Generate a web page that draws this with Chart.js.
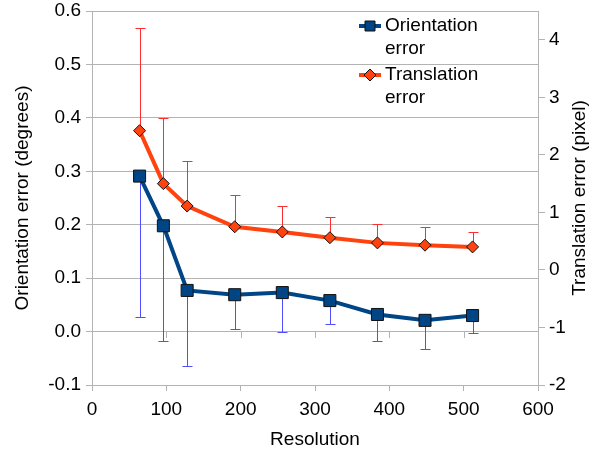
<!DOCTYPE html>
<html lang="en">
<head>
  <meta charset="UTF-8">
  <title>Orientation and translation error vs resolution</title>
  <script src="https://cdn.jsdelivr.net/npm/chart.js"></script>
  <style>
    body { margin: 0; background: #fff; }
    #wrap { width: 604px; height: 455px; }
  </style>
</head>
<body>
  <div id="wrap"><canvas id="chart" width="604" height="455"></canvas></div>

  <script>
    // values
    const resolution = [64, 96, 128, 192, 256, 320, 384, 448, 512];
    const orientErr = [0.291, 0.198, 0.077, 0.069, 0.073, 0.058, 0.032, 0.021, 0.030];
    const orientMinus = [0.263, 0.216, 0.141, 0.065, 0.073, 0.043, 0.049, 0.053, 0.032];
    const transErr = [2.42, 1.50, 1.11, 0.75, 0.66, 0.56, 0.47, 0.43, 0.40];
    const transPlus = [1.79, 1.14, 0.79, 0.55, 0.45, 0.36, 0.33, 0.32, 0.26];
    const seriesNames = [['Orientation', 'error'], ['Translation', 'error']];
    const rightTitle = 'Translation error (pixel)';

    const FONT = { family: '"Liberation Sans", Arial, sans-serif', size: 19 };
    const GRID = '#b3b3b3';
    const BLUE = '#004586';
    const ORANGE = '#ff420e';

    const toPoints = ys => resolution.map((x, i) => ({ x, y: ys[i] }));

    // keep the plot edges where the reference has them
    const fixPad = s => { s.paddingTop = 11; s.paddingBottom = 11; };

    // one sided error bars, drawn under the lines and markers
    const errorBars = {
      id: 'errorBars',
      beforeDatasetsDraw(chart) {
        const { ctx, scales } = chart;
        const x = scales.x;
        const drawBar = (xv, y0, y1, axis) => {
          const px = Math.round(x.getPixelForValue(xv)) + 0.5;
          const a = scales[axis].getPixelForValue(y0);
          const b = Math.round(scales[axis].getPixelForValue(y1)) + 0.5;
          ctx.beginPath();
          ctx.moveTo(px, a); ctx.lineTo(px, b);
          ctx.moveTo(px - 5, b); ctx.lineTo(px + 5, b);
          ctx.stroke();
        };
        ctx.save();
        ctx.lineWidth = 1;
        ctx.strokeStyle = '#4f4fff';
        resolution.forEach((r, i) => drawBar(r, orientErr[i], orientErr[i] - orientMinus[i], 'y'));
        ctx.strokeStyle = '#ff2e2e';
        resolution.forEach((r, i) => drawBar(r, transErr[i], transErr[i] + transPlus[i], 'y2'));
        // small tick marks on the zero line
        const zero = Math.round(scales.y.getPixelForValue(0));
        ctx.strokeStyle = GRID;
        x.ticks.forEach(t => {
          const px = Math.round(x.getPixelForValue(t.value)) + 0.5;
          ctx.beginPath(); ctx.moveTo(px, zero); ctx.lineTo(px, zero + 6); ctx.stroke();
        });
        ctx.restore();
      },
      afterDraw(chart) {
        const { ctx, chartArea } = chart;
        ctx.save();
        ctx.font = FONT.size + 'px ' + FONT.family;
        ctx.fillStyle = '#000';
        ctx.textBaseline = 'middle';
        // legend inside the plot, top right, line + marker like the original
        const x0 = chartArea.right - 179;
        chart.data.datasets.forEach((ds, i) => {
          const y = chartArea.top + 15 + i * 49;
          ctx.strokeStyle = ds.borderColor;
          ctx.lineWidth = 4;
          ctx.beginPath(); ctx.moveTo(x0, y); ctx.lineTo(x0 + 22, y); ctx.stroke();
          ctx.fillStyle = ds.pointBackgroundColor;
          ctx.strokeStyle = '#111';
          ctx.lineWidth = 1;
          ctx.beginPath();
          if (ds.pointStyle === 'rect') {
            ctx.rect(x0 + 6, y - 5, 10, 10);
          } else {
            ctx.moveTo(x0 + 11, y - 6); ctx.lineTo(x0 + 17, y);
            ctx.lineTo(x0 + 11, y + 6); ctx.lineTo(x0 + 5, y); ctx.closePath();
          }
          ctx.fill(); ctx.stroke();
          ctx.fillStyle = '#000';
          seriesNames[i].forEach((line, k) => ctx.fillText(line, x0 + 26, y + k * 23));
        });
        // right axis title reads bottom to top, like the left one
        ctx.translate(chartArea.right + 42, (chartArea.top + chartArea.bottom) / 2);
        ctx.rotate(-Math.PI / 2);
        ctx.textAlign = 'center';
        ctx.fillText(rightTitle, 0, 0);
        ctx.restore();
      }
    };

    new Chart(document.getElementById('chart'), {
      type: 'line',
      data: {
        datasets: [
          {
            label: seriesNames[0].join(' '),
            data: toPoints(orientErr),
            yAxisID: 'y',
            borderColor: BLUE,
            borderWidth: 4,
            pointStyle: 'rect',
            pointRadius: 8.5,
            pointBackgroundColor: BLUE,
            pointBorderColor: '#111',
            pointBorderWidth: 1
          },
          {
            label: seriesNames[1].join(' '),
            data: toPoints(transErr),
            yAxisID: 'y2',
            borderColor: ORANGE,
            borderWidth: 4,
            pointStyle: 'rectRot',
            pointRadius: 6,
            pointBackgroundColor: ORANGE,
            pointBorderColor: '#111',
            pointBorderWidth: 1
          }
        ]
      },
      options: {
        responsive: false,
        animation: false,
        layout: { padding: { top: 11, left: 0, right: 0, bottom: 0 } },
        plugins: { legend: { display: false }, tooltip: { enabled: false } },
        scales: {
          x: {
            type: 'linear',
            min: 0, max: 600,
            ticks: { stepSize: 100, color: '#000', font: FONT, padding: 7, maxRotation: 0 },
            grid: { drawOnChartArea: false, color: GRID, tickLength: 6 },
            border: { color: GRID },
            title: { display: true, text: 'Resolution', color: '#000', font: FONT, padding: { top: 5 } },
            afterFit: s => { s.height = 70; }
          },
          y: {
            position: 'left',
            min: -0.1, max: 0.6,
            ticks: {
              stepSize: 0.1, color: '#000', font: FONT, padding: 5,
              callback: v => (Math.abs(v) < 1e-9 ? 0 : v).toFixed(1)
            },
            grid: { color: GRID, tickLength: 6 },
            border: { color: GRID },
            title: { display: true, text: 'Orientation error (degrees)', color: '#000', font: FONT, padding: { top: 11, bottom: 0 } },
            afterFit: s => { s.width = 92; fixPad(s); }
          },
          y2: {
            position: 'right',
            min: -2, max: 4.5,
            ticks: { stepSize: 1, includeBounds: false, color: '#000', font: FONT, padding: 4 },
            grid: { drawOnChartArea: false, color: GRID, tickLength: 7 },
            border: { color: GRID },
            afterFit: s => { s.width = 66; fixPad(s); }
          }
        }
      },
      plugins: [errorBars]
    });
  </script>
</body>
</html>
